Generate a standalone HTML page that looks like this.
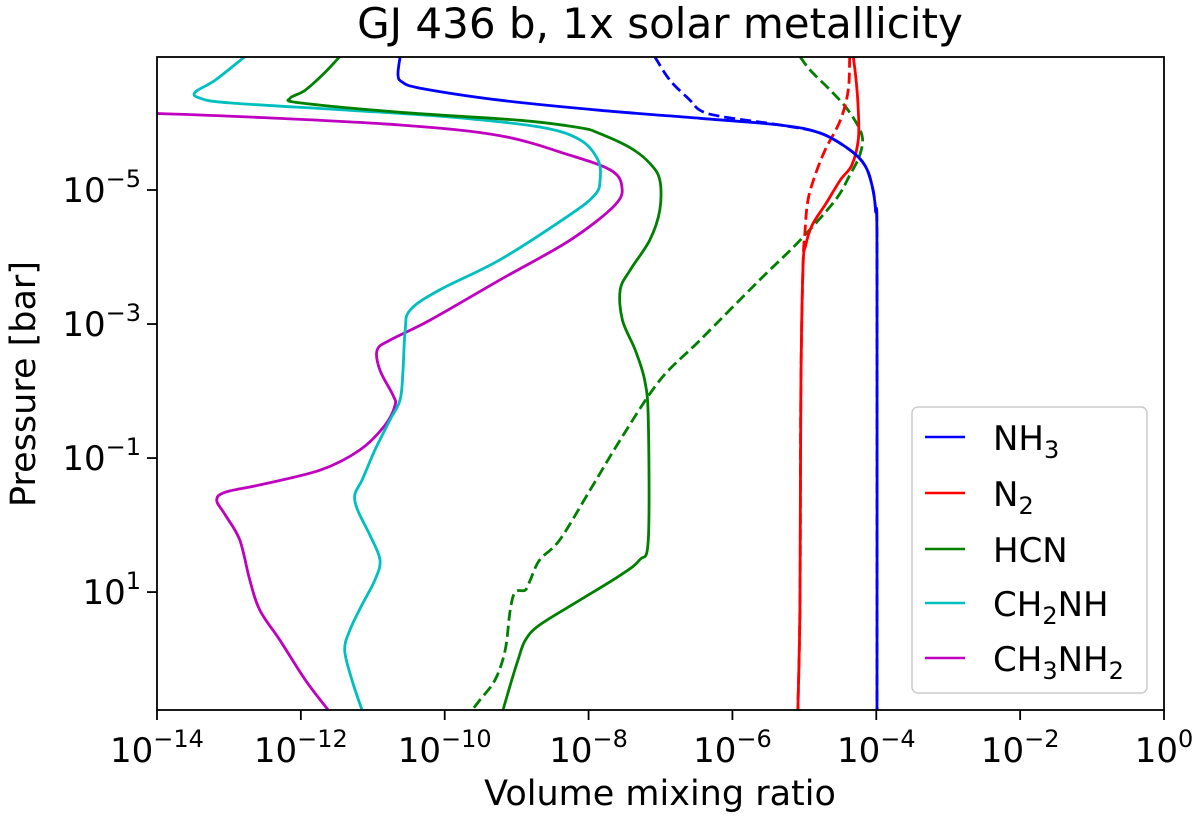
<!DOCTYPE html>
<html><head><meta charset="utf-8"><style>
body{margin:0;background:#fff;}
svg{display:block;font-family:"DejaVu Sans","Liberation Sans",sans-serif;}
</style></head><body>
<svg id="chart" width="1200" height="822" xmlns="http://www.w3.org/2000/svg">
<defs><clipPath id="clip"><rect x="157" y="57" width="1007" height="653"/></clipPath></defs>
<text x="660" y="38" font-size="42" text-anchor="middle">GJ 436 b, 1x solar metallicity</text>
<g id="series" clip-path="url(#clip)"></g>
<rect x="157" y="57" width="1007" height="653" fill="none" stroke="#000" stroke-width="1.8"/>
<g id="xticks"></g>
<g id="yticks"></g>
<text x="660" y="805" font-size="35" text-anchor="middle">Volume mixing ratio</text>
<text transform="translate(35,384) rotate(-90)" font-size="35" text-anchor="middle">Pressure [bar]</text>
<g>
<rect x="912" y="407" width="235" height="286" rx="6" fill="#fff" stroke="#ccc" stroke-width="1.5"/>
<line x1="925" y1="437" x2="965" y2="437" stroke="#0000ff" stroke-width="2.6"/>
<text x="993" y="450" font-size="34">NH<tspan font-size="24" dy="8">3</tspan></text>
<line x1="925" y1="493" x2="965" y2="493" stroke="#ff0000" stroke-width="2.6"/>
<text x="993" y="506" font-size="34">N<tspan font-size="24" dy="8">2</tspan></text>
<line x1="925" y1="549" x2="965" y2="549" stroke="#008000" stroke-width="2.6"/>
<text x="993" y="562" font-size="34">HCN</text>
<line x1="925" y1="603" x2="965" y2="603" stroke="#00bfbf" stroke-width="2.6"/>
<text x="993" y="616" font-size="34">CH<tspan font-size="24" dy="8">2</tspan><tspan dy="-8">NH</tspan></text>
<line x1="925" y1="658" x2="965" y2="658" stroke="#bf00bf" stroke-width="2.6"/>
<text x="993" y="671" font-size="34">CH<tspan font-size="24" dy="8">3</tspan><tspan dy="-8">NH</tspan><tspan font-size="24" dy="8">2</tspan></text>
</g>
</svg>
<script>
// data: log10 pressure (bar) and log10 mixing ratio
const xTickExps=[-14,-12,-10,-8,-6,-4,-2,0];
const yTickExps=[-5,-3,-1,1];
const nh3P=[-6.99,-6.72,-6.61,-6.52,-6.34,-6.19,-6.07,-5.97,-5.85,-5.60,-5.37,-5.07,-4.70,-3.96,2.76];
const nh3X=[-10.62,-10.65,-10.59,-10.34,-9.23,-7.84,-6.45,-5.34,-4.78,-4.37,-4.16,-4.06,-4.01,-3.99,-3.99];
const nh3dP=[-6.99,-6.64,-6.34,-6.19,-6.10,-5.97,-5.85,-5.60,-5.37,-5.07,-4.70,-3.96,2.76];
const nh3dX=[-7.08,-6.87,-6.59,-6.45,-6.17,-5.34,-4.78,-4.37,-4.16,-4.06,-4.01,-3.99,-3.99];
const n2P=[-6.99,-6.64,-6.19,-5.75,-5.37,-5.15,-4.78,-4.48,-4.18,-3.81,-1.87,1.12,2.76];
const n2X=[-4.32,-4.28,-4.25,-4.25,-4.34,-4.50,-4.71,-4.89,-4.98,-5.02,-5.05,-5.06,-5.09];
const n2dP=[-6.99,-6.49,-6.04,-5.60,-5.22,-4.85,-4.40,-3.81,-1.87,1.12,2.76];
const n2dX=[-4.37,-4.39,-4.50,-4.71,-4.85,-4.95,-4.99,-5.02,-5.05,-5.06,-5.09];
const hcnP=[-6.99,-6.76,-6.49,-6.37,-6.30,-6.16,-6.04,-5.93,-5.84,-5.63,-5.40,-5.15,-4.70,-4.25,-3.81,-3.51,-3.06,-2.61,-2.16,-1.57,0.22,0.52,0.75,1.12,1.49,1.72,2.01,2.39,2.76];
const hcnX=[-11.46,-11.66,-11.94,-12.15,-12.01,-10.62,-8.95,-8.12,-7.84,-7.42,-7.15,-7.01,-7.01,-7.15,-7.42,-7.56,-7.53,-7.35,-7.22,-7.17,-7.17,-7.29,-7.56,-8.12,-8.68,-8.88,-8.98,-9.09,-9.19];
const hcndP=[-6.99,-6.79,-6.49,-6.19,-5.82,-5.52,-5.22,-4.85,-4.25,-3.66,-2.76,-2.16,-1.27,-0.52,0.22,0.52,0.82,0.97,1.0,1.27,1.87,2.31,2.61,2.76];
const hcndX=[-5.06,-4.92,-4.64,-4.39,-4.20,-4.23,-4.37,-4.57,-5.06,-5.62,-6.45,-7.01,-7.56,-7.98,-8.40,-8.68,-8.81,-8.88,-9.02,-9.09,-9.16,-9.30,-9.51,-9.62];
const ch2nhP=[-6.99,-6.64,-6.46,-6.37,-6.30,-6.19,-6.09,-5.94,-5.75,-5.45,-5.15,-4.93,-4.63,-3.96,-3.51,-3.21,-2.91,-2.31,-1.87,-1.57,-1.12,-0.67,-0.45,-0.22,0.15,0.52,0.82,1.19,1.57,1.87,2.31,2.76];
const ch2nhX=[-12.78,-13.19,-13.47,-13.40,-12.99,-11.32,-9.93,-8.68,-8.12,-7.87,-7.84,-7.91,-8.26,-9.23,-10.07,-10.48,-10.55,-10.58,-10.62,-10.76,-10.97,-11.15,-11.25,-11.21,-11.04,-10.90,-10.97,-11.15,-11.32,-11.39,-11.29,-11.15];
const ch3nh2P=[-6.15,-6.09,-5.97,-5.81,-5.52,-5.30,-5.07,-4.78,-4.25,-3.66,-3.06,-2.76,-2.61,-2.31,-1.94,-1.79,-1.49,-1.12,-0.82,-0.60,-0.49,-0.37,-0.15,0.22,0.82,1.27,1.72,2.31,2.76];
const ch3nh2X=[-14.2,-12.71,-10.62,-9.23,-8.26,-7.70,-7.54,-7.63,-8.26,-9.23,-10.20,-10.76,-10.94,-10.90,-10.72,-10.69,-10.83,-11.18,-11.73,-12.57,-13.05,-13.17,-13.05,-12.85,-12.71,-12.57,-12.29,-11.94,-11.62];

const X0=157,X1=1164,Y0=57,Y1=710,XMIN=-14,XMAX=0,YMIN=-6.985,YMAX=2.76;
function sx(v){return X0+(v-XMIN)/(XMAX-XMIN)*(X1-X0);}
function sy(v){return Y0+(v-YMIN)/(YMAX-YMIN)*(Y1-Y0);}
const NS="http://www.w3.org/2000/svg";
function pathD(xs,ps){
  const pts=xs.map((x,i)=>[sx(x),sy(ps[i])]);
  let d="M"+pts[0][0].toFixed(1)+","+pts[0][1].toFixed(1);
  for(let i=0;i<pts.length-1;i++){
    const p0=pts[Math.max(0,i-1)],p1=pts[i],p2=pts[i+1],p3=pts[Math.min(pts.length-1,i+2)];
    const c1=[p1[0]+(p2[0]-p0[0])/6,p1[1]+(p2[1]-p0[1])/6];
    const c2=[p2[0]-(p3[0]-p1[0])/6,p2[1]-(p3[1]-p1[1])/6];
    d+="C"+c1.map(v=>v.toFixed(1)).join(",")+" "+c2.map(v=>v.toFixed(1)).join(",")+" "+p2[0].toFixed(1)+","+p2[1].toFixed(1);
  }
  return d;
}
const g=document.getElementById("series");
function addLine(xs,ps,color,dashed,name){
  const el=document.createElementNS(NS,"path");
  el.setAttribute("d",pathD(xs,ps));
  el.setAttribute("fill","none");
  el.setAttribute("stroke",color);
  el.setAttribute("stroke-width","2.8");
  el.setAttribute("stroke-linejoin","round");
  if(dashed)el.setAttribute("stroke-dasharray","11,5");
  
  
  g.appendChild(el);
}
addLine(ch3nh2X,ch3nh2P,"#bf00bf",false,"line-ch3nh2");
addLine(ch2nhX,ch2nhP,"#00bfbf",false,"line-ch2nh");
addLine(hcndX,hcndP,"#008000",true,"line-hcn-dashed");
addLine(hcnX,hcnP,"#008000",false,"line-hcn");
addLine(n2dX,n2dP,"#ff0000",true,"line-n2-dashed");
addLine(n2X,n2P,"#ff0000",false,"line-n2");
addLine(nh3dX,nh3dP,"#0000ff",true,"line-nh3-dashed");
addLine(nh3X,nh3P,"#0000ff",false,"line-nh3");

const xt=document.getElementById("xticks");
xTickExps.forEach(e=>{
  const x=sx(e);
  const t=document.createElementNS(NS,"line");
  t.setAttribute("x1",x);t.setAttribute("x2",x);t.setAttribute("y1",Y1);t.setAttribute("y2",Y1+10);
  t.setAttribute("stroke","#000");t.setAttribute("stroke-width","1.8");
  
  
  xt.appendChild(t);
  const tx=document.createElementNS(NS,"text");
  tx.setAttribute("x",x);tx.setAttribute("y",762);tx.setAttribute("font-size","34");tx.setAttribute("text-anchor","middle");
  tx.innerHTML='10<tspan font-size="24" dy="-15">'+(e<0?'\u2212'+(-e):e)+'</tspan>';
  
  
  xt.appendChild(tx);
});
const yt=document.getElementById("yticks");
yTickExps.forEach(e=>{
  const y=sy(e);
  const t=document.createElementNS(NS,"line");
  t.setAttribute("x1",X0-10);t.setAttribute("x2",X0);t.setAttribute("y1",y);t.setAttribute("y2",y);
  t.setAttribute("stroke","#000");t.setAttribute("stroke-width","1.8");
  
  
  yt.appendChild(t);
  const tx=document.createElementNS(NS,"text");
  tx.setAttribute("x",X0-16);tx.setAttribute("y",y+12);tx.setAttribute("font-size","34");tx.setAttribute("text-anchor","end");
  tx.innerHTML='10<tspan font-size="24" dy="-15">'+(e<0?'\u2212'+(-e):e)+'</tspan>';
  
  
  yt.appendChild(tx);
});
</script>
</body></html>
